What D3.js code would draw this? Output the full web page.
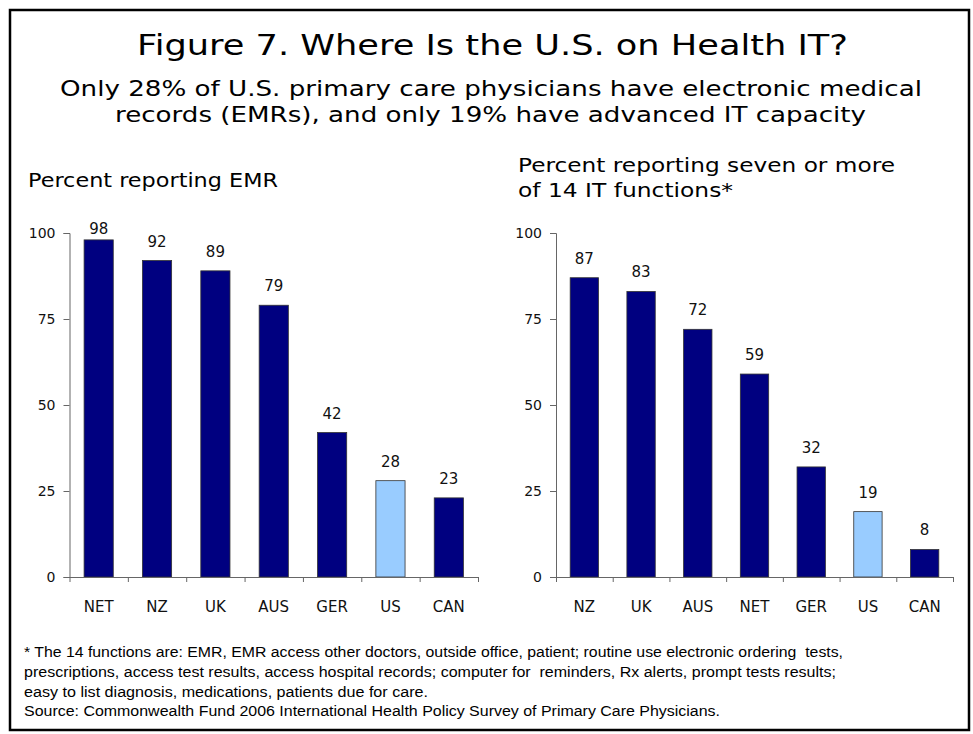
<!DOCTYPE html>
<html>
<head>
<meta charset="utf-8">
<script src="https://cdn.jsdelivr.net/npm/d3@7/dist/d3.min.js"></script>
<style>
  html, body { margin: 0; padding: 0; background: #fff; }
  svg { display: block; }
  text { white-space: pre; }
</style>
</head>
<body>
<svg id="chart" width="973" height="734"></svg>
<script>
// ---- Data ----
const emrCategories = ["NET", "NZ", "UK", "AUS", "GER", "US", "CAN"];
const emrValues = [98, 92, 89, 79, 42, 28, 23];
const itCategories = ["NZ", "UK", "AUS", "NET", "GER", "US", "CAN"];
const itValues = [87, 83, 72, 59, 32, 19, 8];
const yTickValues = [0, 25, 50, 75, 100];
const highlightCategory = "US";

const titleText = "Figure 7. Where Is the U.S. on Health IT?";
const subtitleLines = [
  "Only 28% of U.S. primary care physicians have electronic medical",
  "records (EMRs), and only 19% have advanced IT capacity"
];
const leftPanelTitle = ["Percent reporting EMR"];
const rightPanelTitle = ["Percent reporting seven or more", "of 14 IT functions*"];
const footnoteLines = [
  "* The 14 functions are: EMR, EMR access other doctors, outside office, patient; routine use electronic ordering  tests,",
  "prescriptions, access test results, access hospital records; computer for  reminders, Rx alerts, prompt tests results;",
  "easy to list diagnosis, medications, patients due for care.",
  "Source: Commonwealth Fund 2006 International Health Policy Survey of Primary Care Physicians."
];

// ---- Drawing ----
const svg = d3.select("#chart");
const SANS = "'DejaVu Sans', Verdana, sans-serif";
const ARIAL = "'Liberation Sans', Arial, sans-serif";
const NAVY = "#000080";
const LIGHT = "#99CCFF";

svg.append("rect").attr("x", 0).attr("y", 0).attr("width", 973).attr("height", 734).attr("fill", "#fff");
// frame
svg.append("rect").attr("x", 10).attr("y", 10).attr("width", 959).attr("height", 720)
  .attr("fill", "none").attr("stroke", "#000").attr("stroke-width", 2.5);

function fitText(sel, x, y, txt, size, family, width, anchor) {
  const t = sel.append("text").attr("x", x).attr("y", y)
    .attr("font-family", family).attr("font-size", size)
    .attr("fill", "#000").attr("text-anchor", anchor || "start").text(txt);
  if (width) t.attr("textLength", width).attr("lengthAdjust", "spacingAndGlyphs");
  return t;
}

// title
fitText(svg, 492.5, 55, titleText, 28, SANS, 711, "middle");
fitText(svg, 491, 96, subtitleLines[0], 21.5, SANS, 862, "middle");
fitText(svg, 490.5, 122, subtitleLines[1], 21.5, SANS, 751, "middle");

// panel titles
fitText(svg, 28, 187, leftPanelTitle[0], 19, SANS, 250);
fitText(svg, 518, 172, rightPanelTitle[0], 19, SANS, 377);
fitText(svg, 518, 197, rightPanelTitle[1], 19, SANS, 215);

function drawPanel(cats, vals, x0, x1, labelRight) {
  const y = d3.scaleLinear().domain([0, 100]).range([577, 233]);
  const x = d3.scaleBand().domain(cats).range([x0, x1]).paddingInner(0.5).paddingOuter(0.25);
  const g = svg.append("g");

  // y axis
  const yAxis = d3.axisLeft(y).tickValues(yTickValues).tickSize(6).tickPadding(8).tickFormat(d3.format("d"));
  const ya = g.append("g").attr("transform", `translate(${x0},0)`).call(yAxis);
  ya.select(".domain").attr("stroke", "#666");
  ya.selectAll(".tick line").attr("stroke", "#666");
  ya.selectAll(".tick text").attr("font-family", SANS).attr("font-size", 14).attr("fill", "#111");

  // bars
  g.selectAll("rect.bar").data(cats).enter().append("rect")
    .attr("x", d => x(d))
    .attr("y", (d, i) => y(vals[i]))
    .attr("width", x.bandwidth())
    .attr("height", (d, i) => y(0) - y(vals[i]))
    .attr("fill", d => d === highlightCategory ? LIGHT : NAVY)
    .attr("stroke", "#333").attr("stroke-width", 0.8);

  // x axis line and boundary ticks
  const step = x.step();
  const xAxisScale = d3.scaleLinear().domain([0, cats.length]).range([x0, x0 + step * cats.length]);
  const xAxis = d3.axisBottom(xAxisScale).ticks(cats.length).tickValues(d3.range(cats.length + 1))
    .tickSize(5).tickSizeOuter(0).tickFormat("");
  const xa = g.append("g").attr("transform", `translate(0,${y(0)})`).call(xAxis);
  xa.select(".domain").attr("stroke", "#666");
  xa.selectAll(".tick line").attr("stroke", "#666");

  // category labels
  g.selectAll("text.cat").data(cats).enter().append("text")
    .attr("x", d => x(d) + x.bandwidth() / 2)
    .attr("y", 612)
    .attr("text-anchor", "middle")
    .attr("font-family", SANS).attr("font-size", 15).attr("fill", "#111")
    .text(d => d);

  // value labels
  g.selectAll("text.val").data(cats).enter().append("text")
    .attr("x", d => x(d) + x.bandwidth() / 2)
    .attr("y", (d, i) => Math.max(y(vals[i]) - 14, y(100) + 1))
    .attr("text-anchor", "middle")
    .attr("font-family", SANS).attr("font-size", 15).attr("fill", "#111")
    .text((d, i) => vals[i]);
}

drawPanel(emrCategories, emrValues, 69.5, 478, false);
drawPanel(itCategories, itValues, 556, 953, true);

// footnotes
const fnWidths = [819, 812, 404, 696];
const fnY = [657, 677, 697, 716];
footnoteLines.forEach((l, i) => fitText(svg, 24, fnY[i], l, 14, ARIAL, fnWidths[i]));
</script>
</body>
</html>
